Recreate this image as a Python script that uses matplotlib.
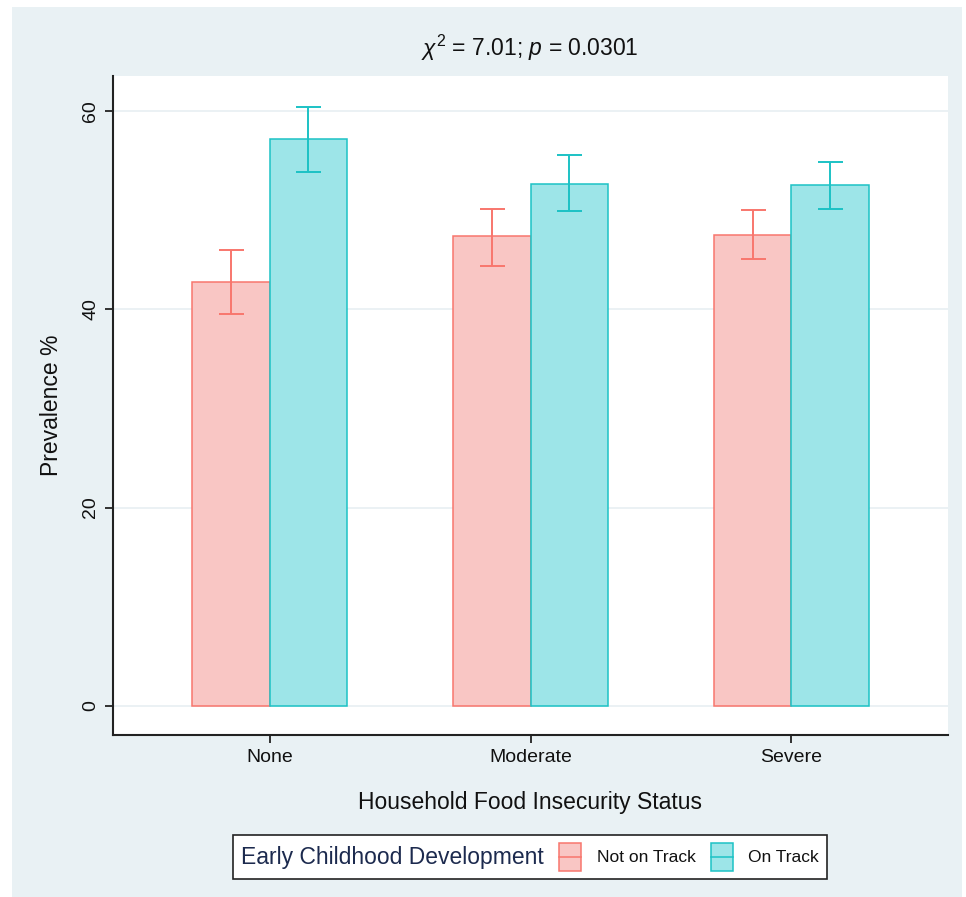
import numpy as np
import matplotlib
matplotlib.use("Agg")
import matplotlib.pyplot as plt
from matplotlib.patches import Rectangle
from matplotlib.lines import Line2D
from matplotlib.offsetbox import AnchoredOffsetbox, HPacker, TextArea, DrawingArea

plt.rcParams['font.family'] = ['Liberation Sans', 'DejaVu Sans']
plt.rcParams['mathtext.fontset'] = 'custom'
plt.rcParams['mathtext.rm'] = 'Liberation Sans'
plt.rcParams['mathtext.it'] = 'Liberation Sans:italic'

# data
categories = ["None", "Moderate", "Severe"]
not_on_track = [42.8, 47.4, 47.5]
not_on_track_lo = [39.5, 44.4, 45.1]
not_on_track_hi = [46.0, 50.1, 50.0]
on_track = [57.2, 52.7, 52.6]
on_track_lo = [53.9, 49.9, 50.1]
on_track_hi = [60.4, 55.6, 54.9]
yticks = [0, 20, 40, 60]

pink_fill, pink_edge = "#f9c6c4", "#f8766d"
teal_fill, teal_edge = "#9de5e8", "#1cc2c5"
panel_bg = "#e9f1f4"

W, H = 966, 897
fig = plt.figure(figsize=(W / 100, H / 100), dpi=100)
fig.patch.set_facecolor("white")
fig.add_artist(Rectangle((12 / W, 0), 950 / W, 1 - 7 / H, transform=fig.transFigure,
                         facecolor=panel_bg, edgecolor="none", zorder=-10))

ax = fig.add_axes([113 / W, 1 - 735 / H, (948 - 113) / W, (735 - 76) / H])
ax.set_facecolor("white")

x = np.arange(len(categories))
w = 0.298
ax.bar(x - w / 2, not_on_track, width=w, color=pink_fill, edgecolor=pink_edge, linewidth=1.1, zorder=2)
ax.bar(x + w / 2, on_track, width=w, color=teal_fill, edgecolor=teal_edge, linewidth=1.1, zorder=2)

mid1 = (np.array(not_on_track_lo) + np.array(not_on_track_hi)) / 2
err1 = (np.array(not_on_track_hi) - np.array(not_on_track_lo)) / 2
mid2 = (np.array(on_track_lo) + np.array(on_track_hi)) / 2
err2 = (np.array(on_track_hi) - np.array(on_track_lo)) / 2
ax.errorbar(x - w / 2, mid1, yerr=err1, fmt="none", ecolor=pink_edge, elinewidth=1.4,
            capsize=9, capthick=1.4, zorder=3)
ax.errorbar(x + w / 2, mid2, yerr=err2, fmt="none", ecolor=teal_edge, elinewidth=1.4,
            capsize=9, capthick=1.4, zorder=3)

ax.set_xlim(-0.6, 2.6)
ax.set_ylim(-2.95, 63.55)
ax.set_yticks(yticks)
ax.set_yticklabels([str(t) for t in yticks], rotation=90, va="center")
ax.set_xticks(x)
ax.set_xticklabels(categories)
ax.tick_params(axis="both", labelsize=14, length=6, width=1.3, color="#222222", labelcolor="#111111")
ax.tick_params(axis="y", pad=4)
ax.tick_params(axis="x", pad=4)
for yv in yticks:
    ax.axhline(yv, color="#e8eff2", linewidth=1.2, zorder=1)

for s in ["top", "right"]:
    ax.spines[s].set_visible(False)
for s in ["left", "bottom"]:
    ax.spines[s].set_color("#222222")
    ax.spines[s].set_linewidth(1.5)

ax.set_ylabel("Prevalence %", fontsize=16.5, color="#111111", labelpad=14)
ax.set_xlabel("Household Food Insecurity Status", fontsize=16.5, color="#111111", labelpad=18)

fig.text(530 / W, 1 - 48 / H, r"$\chi^2$ = 7.01; $p$ = 0.0301", ha="center", va="center",
         fontsize=16.5, color="#111111")


def swatch(fc, ec):
    da = DrawingArea(16, 20, 0, 0)
    da.add_artist(Rectangle((0, 0), 16, 20, facecolor=fc, edgecolor=ec, linewidth=1.1))
    da.add_artist(Line2D([0, 16], [10, 10], color=ec, linewidth=1.1))
    return da


title_box = TextArea("Early Childhood Development",
                     textprops=dict(fontsize=16.5, color="#1c2a4e"))
lab1 = TextArea("Not on Track", textprops=dict(fontsize=12.5, color="#111111"))
lab2 = TextArea("On Track", textprops=dict(fontsize=12.5, color="#111111"))
row = HPacker(children=[title_box, swatch(pink_fill, pink_edge), lab1,
                        swatch(teal_fill, teal_edge), lab2],
              sep=11, align="center", pad=0)
leg = AnchoredOffsetbox(loc="center", child=row, pad=0.6, frameon=True,
                        bbox_to_anchor=(530 / W, 1 - 857 / H),
                        bbox_transform=fig.transFigure, borderpad=0)
leg.patch.set_edgecolor("#222222")
leg.patch.set_linewidth(1.2)
leg.patch.set_facecolor("white")
fig.add_artist(leg)

fig.savefig("out.png", dpi=100)
